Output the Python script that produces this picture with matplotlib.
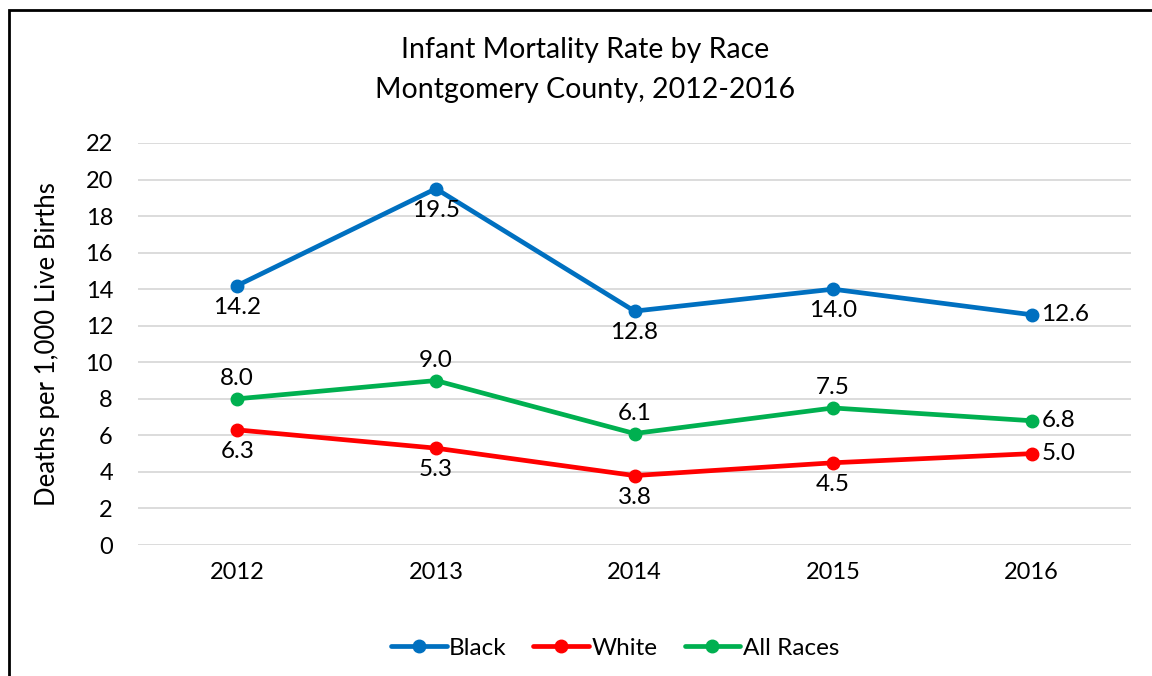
import matplotlib
matplotlib.use("Agg")
import matplotlib.pyplot as plt
from matplotlib.patches import Rectangle

plt.rcParams['font.family'] = ['Lato', 'DejaVu Sans']

years = ["2012", "2013", "2014", "2015", "2016"]
black = [14.2, 19.5, 12.8, 14.0, 12.6]
white = [6.3, 5.3, 3.8, 4.5, 5.0]
all_races = [8.0, 9.0, 6.1, 7.5, 6.8]
yticks = [0, 2, 4, 6, 8, 10, 12, 14, 16, 18, 20, 22]

series = [
    ("Black", black, "#0070C0", ["below", "below", "below", "below", "right"]),
    ("White", white, "#FF0000", ["below", "below", "below", "below", "right"]),
    ("All Races", all_races, "#00B050", ["above", "above", "above", "above", "right"]),
]

fig = plt.figure(figsize=(11.52, 6.76), dpi=100)
ax = fig.add_axes([138/1152, 1-545/676, (1131-138)/1152, (545-143)/676])

x = list(range(len(years)))
for name, vals, col, pos in series:
    ax.plot(x, vals, color=col, lw=3.4, marker='o', markersize=9, label=name,
            solid_capstyle='round', zorder=3)
    for xi, v, p in zip(x, vals, pos):
        if p == "below":
            ax.annotate(f"{v:.1f}", (xi, v), xytext=(0, -8), textcoords='offset points',
                        ha='center', va='top', fontsize=17.5)
        elif p == "above":
            ax.annotate(f"{v:.1f}", (xi, v), xytext=(0, 7), textcoords='offset points',
                        ha='center', va='bottom', fontsize=17.5)
        else:
            ax.annotate(f"{v:.1f}", (xi, v), xytext=(7, 0), textcoords='offset points',
                        ha='left', va='center', fontsize=17.5)

ax.set_xlim(-0.5, 4.5)
ax.set_ylim(0, 22)
ax.set_yticks(yticks)
ax.set_xticks(x)
ax.set_xticklabels(years)
ax.tick_params(axis='both', length=0, labelsize=17, pad=12)
ax.tick_params(axis='y', pad=18)
ax.grid(axis='y', color='#D9D9D9', lw=1.3)
ax.set_axisbelow(True)
for s in ax.spines.values():
    s.set_visible(False)

ax.set_ylabel("Deaths per 1,000 Live Births", fontsize=18.5, labelpad=18)

fig.text(585/1152, 1-50/676, "Infant Mortality Rate by Race", ha='center', va='center', fontsize=20.5)
fig.text(585/1152, 1-90/676, "Montgomery County, 2012-2016", ha='center', va='center', fontsize=20.5)

fig.legend(loc='center', bbox_to_anchor=(615/1152, 1-648/676), ncol=3, frameon=False,
           fontsize=17.5, handlelength=2.3, handletextpad=0.1, columnspacing=1.1)

fig.patches.append(Rectangle((9/1152, -0.1), 1.2, 1-10/676+0.1, transform=fig.transFigure,
                             fill=False, edgecolor='black', lw=2, figure=fig))

fig.savefig("out.png", dpi=100)
